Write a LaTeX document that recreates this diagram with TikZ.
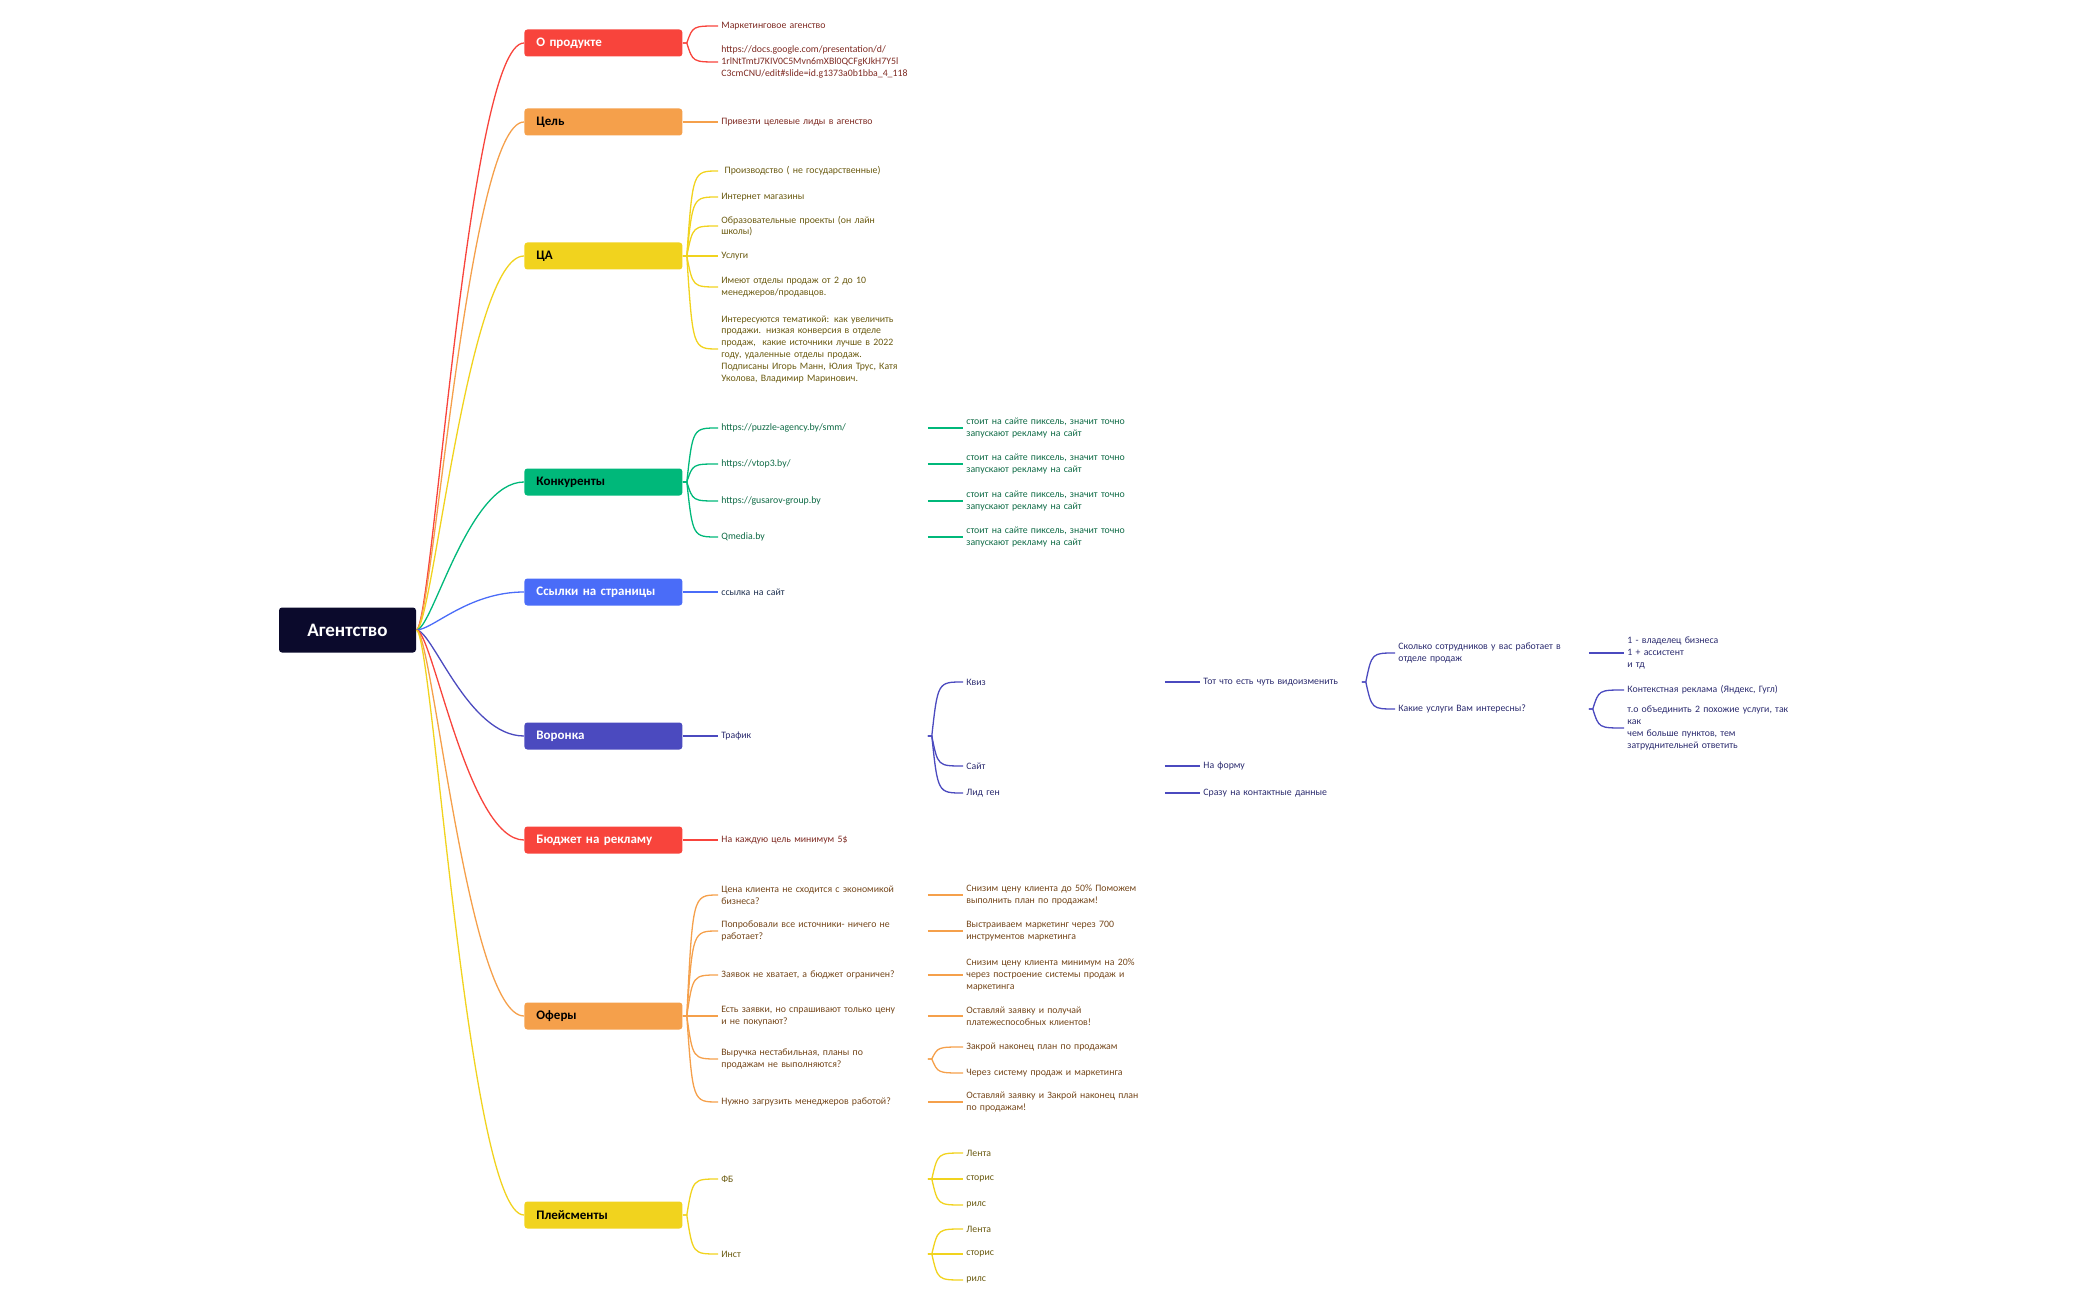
\documentclass[tikz,border=0pt]{standalone}
\usepackage{fontspec}
\setmainfont{Carlito}
\usetikzlibrary{calc}
\definecolor{cR}{HTML}{F8443C}\definecolor{tR}{HTML}{7E2A22}
\definecolor{cO}{HTML}{F5A04B}\definecolor{tO}{HTML}{74461A}
\definecolor{cY}{HTML}{F1D31E}\definecolor{tY}{HTML}{6A5A10}
\definecolor{cG}{HTML}{00B87A}\definecolor{tG}{HTML}{0E6A45}
\definecolor{cB}{HTML}{4A6CF8}\definecolor{tB}{HTML}{1E3050}
\definecolor{cP}{HTML}{4B4ABF}\definecolor{tP}{HTML}{2A2A6E}
\definecolor{cRoot}{HTML}{0B0A2C}
\begin{document}
\begin{tikzpicture}[x=0.5pt,y=-0.5pt,
 t/.style={anchor=west,align=left,inner xsep=1.5pt,inner ysep=0.5pt,font=\fontsize{4.9}{5.9}\selectfont},
 w2/.style={t,text width=99pt}, w3/.style={t,text width=95pt},
 w4/.style={t,text width=75pt}, w5/.style={t,text width=91pt}, w6/.style={t,text width=85pt},
 box/.style={anchor=west,rounded corners=1.5pt,minimum width=79pt,minimum height=13.5pt,text width=67pt,inner xsep=6pt,align=left,font=\fontsize{6.5}{8}\selectfont\bfseries},
 br/.style={to path={-- ++(4,0) coordinate(tmpP) .. controls ([xshift=3pt]tmpP |- \tikztotarget) .. (\tikztotarget)}},
 rc/.style={to path={.. controls ([xshift=8pt]\tikztostart) and ([xshift=-28pt]\tikztotarget) .. (\tikztotarget)}},
 ln/.style={line width=0.65pt}]
\useasboundingbox (0,0) rectangle (2100,1300);
\node[anchor=center,fill=cRoot,text=white,rounded corners=1.5pt,minimum width=68.5pt,minimum height=22.5pt,font=\fontsize{9.5}{11}\selectfont\bfseries] (root) at (347.5,630) {Агентство};
% level 1
\node[box,fill=cR,text=white] (b1) at (524,43) {О продукте};
\node[box,fill=cO,text=black] (b2) at (524,122) {Цель};
\node[box,fill=cY,text=black] (b3) at (524,256) {ЦА};
\node[box,fill=cG,text=black] (b4) at (524,482) {Конкуренты};
\node[box,fill=cB,text=white] (b5) at (524,592) {Ссылки на страницы};
\node[box,fill=cP,text=white] (b6) at (524,736) {Воронка};
\node[box,fill=cR,text=white] (b7) at (524,840) {Бюджет на рекламу};
\node[box,fill=cO,text=black] (b8) at (524,1016) {Оферы};
\node[box,fill=cY,text=black] (b9) at (524,1215) {Плейсменты};
\draw[ln,cR] (root.east) to[rc] (b1.west);
\draw[ln,cO] (root.east) to[rc] (b2.west);
\draw[ln,cY] (root.east) to[rc] (b3.west);
\draw[ln,cG] (root.east) to[rc] (b4.west);
\draw[ln,cB] (root.east) to[rc] (b5.west);
\draw[ln,cP] (root.east) to[rc] (b6.west);
\draw[ln,cR] (root.east) to[rc] (b7.west);
\draw[ln,cO] (root.east) to[rc] (b8.west);
\draw[ln,cY] (root.east) to[rc] (b9.west);
% О продукте
\begin{scope}[text=tR]
\node[w2] (p1) at (718,26) {Маркетинговое агенство};
\node[w2] (p2) at (718,62) {https://docs.google.com/presentation/d/\\1rlNtTmtJ7KIV0C5Mvn6mXBl0QCFgKJkH7Y5l\\C3cmCNU/edit\#slide=id.g1373a0b1bba\_4\_118};
\node[w2] (g1) at (718,122) {Привезти целевые лиды в агенство};
\end{scope}
\draw[ln,cR] (b1.east) to[br] (p1.west);
\draw[ln,cR] (b1.east) to[br] (p2.west);
\draw[ln,cO] (b2.east) to[br] (g1.west);
% ЦА
\begin{scope}[text=tY]
\node[w2] (a1) at (718,171) {\ Производство ( не государственные)};
\node[w2] (a2) at (718,197) {Интернет магазины};
\node[w2] (a3) at (718,226) {Образовательные проекты (он лайн\\школы)};
\node[w2] (a4) at (718,256) {Услуги};
\node[w2] (a5) at (718,287) {Имеют отделы продаж от 2 до 10\\менеджеров/продавцов.};
\node[w2] (a6) at (718,349) {Интересуются тематикой: как увеличить\\продажи. низкая конверсия в отделе\\продаж,\ \ какие источники лучше в 2022\\году, удаленные отделы продаж.\\Подписаны Игорь Манн, Юлия Трус, Катя\\Уколова, Владимир Маринович.};
\end{scope}
\foreach \i in {1,...,6} \draw[ln,cY] (b3.east) to[br] (a\i.west);
% Конкуренты
\begin{scope}[text=tG]
\node[w2] (k1) at (718,428) {https://puzzle-agency.by/smm/};
\node[w2] (k2) at (718,464) {https://vtop3.by/};
\node[w2] (k3) at (718,501) {https://gusarov-group.by};
\node[w2] (k4) at (718,537) {Qmedia.by};
\foreach \i/\y in {1/428,2/464,3/501,4/537}
  \node[w3] (kk\i) at (963,\y) {стоит на сайте пиксель, значит точно\\запускают рекламу на сайт};
\end{scope}
\foreach \i in {1,...,4} {\draw[ln,cG] (b4.east) to[br] (k\i.west);
  \draw[ln,cG] ([xshift=2.5pt]k\i.east) to[br] (kk\i.west);}
% Ссылки
\node[w2,text=tB] (s1) at (718,592) {ссылка на сайт};
\draw[ln,cB] (b5.east) to[br] (s1.west);
% Воронка
\begin{scope}[text=tP]
\node[w2] (v1) at (718,736) {Трафик};
\node[w3] (v11) at (963,682) {Квиз};
\node[w3] (v12) at (963,766) {Сайт};
\node[w3] (v13) at (963,793) {Лид ген};
\node[w4] (v111) at (1200,682) {Тот что есть чуть видоизменить};
\node[w4] (v121) at (1200,766) {На форму};
\node[w4] (v131) at (1200,793) {Сразу на контактные данные};
\node[w5] (q1) at (1395,653) {Сколько сотрудников у вас работает в\\отделе продаж};
\node[w5] (q2) at (1395,709) {Какие услуги Вам интересны?};
\node[w6] (q11) at (1624,653) {1 - владелец бизнеса\\1 + ассистент\\и тд};
\node[w6] (q21) at (1624,690) {Контекстная реклама (Яндекс, Гугл)};
\node[w6] (q22) at (1624,728) {т.о объединить 2 похожие услуги, так как\\чем больше пунктов, тем\\затруднительней ответить};
\end{scope}
\draw[ln,cP] (b6.east) to[br] (v1.west);
\foreach \i in {1,2,3} {\draw[ln,cP] ([xshift=2.5pt]v1.east) to[br] (v1\i.west);
  \draw[ln,cP] ([xshift=2.5pt]v1\i.east) to[br] (v1\i1.west);}
\draw[ln,cP] ([xshift=2.5pt]v111.east) to[br] (q1.west);
\draw[ln,cP] ([xshift=2.5pt]v111.east) to[br] (q2.west);
\draw[ln,cP] ([xshift=2.5pt]q1.east) to[br] (q11.west);
\draw[ln,cP] ([xshift=2.5pt]q2.east) to[br] (q21.west);
\draw[ln,cP] ([xshift=2.5pt]q2.east) to[br] (q22.west);
% Бюджет
\node[w2,text=tR] (r1) at (718,840) {На каждую цель минимум 5\$};
\draw[ln,cR] (b7.east) to[br] (r1.west);
% Оферы
\begin{scope}[text=tO]
\node[w2] (o1) at (718,895) {Цена клиента не сходится с экономикой\\бизнеса?};
\node[w2] (o2) at (718,931) {Попробовали все источники- ничего не\\работает?};
\node[w2] (o3) at (718,975) {Заявок не хватает, а бюджет ограничен?};
\node[w2] (o4) at (718,1016) {Есть заявки, но спрашивают только цену\\и не покупают?};
\node[w2] (o5) at (718,1059) {Выручка нестабильная, планы по\\продажам не выполняются?};
\node[w2] (o6) at (718,1102) {Нужно загрузить менеджеров работой?};
\node[w3] (o11) at (963,895) {Снизим цену клиента до 50\% Поможем\\выполнить план по продажам!};
\node[w3] (o21) at (963,931) {Выстраиваем маркетинг через 700\\инструментов маркетинга};
\node[w3] (o31) at (963,975) {Снизим цену клиента минимум на 20\%\\через построение системы продаж и\\маркетинга};
\node[w3] (o41) at (963,1016) {Оставляй заявку и получай\\платежеспособных клиентов!};
\node[w3] (o51) at (963,1047) {Закрой наконец план по продажам};
\node[w3] (o52) at (963,1073) {Через систему продаж и маркетинга};
\node[w3] (o61) at (963,1102) {Оставляй заявку и Закрой наконец план\\по продажам!};
\end{scope}
\foreach \i in {1,...,6} \draw[ln,cO] (b8.east) to[br] (o\i.west);
\foreach \i in {1,2,3,4,6} \draw[ln,cO] ([xshift=2.5pt]o\i.east) to[br] (o\i1.west);
\draw[ln,cO] ([xshift=2.5pt]o5.east) to[br] (o51.west);
\draw[ln,cO] ([xshift=2.5pt]o5.east) to[br] (o52.west);
% Плейсменты
\begin{scope}[text=tY]
\node[w2] (f1) at (718,1179) {ФБ};
\node[w2] (f2) at (718,1254) {Инст};
\node[w3] (f11) at (963,1153) {Лента};
\node[w3] (f12) at (963,1179) {сторис};
\node[w3] (f13) at (963,1205) {рилс};
\node[w3] (f21) at (963,1229) {Лента};
\node[w3] (f22) at (963,1254) {сторис};
\node[w3] (f23) at (963,1280) {рилс};
\end{scope}
\foreach \i in {1,2} {\draw[ln,cY] (b9.east) to[br] (f\i.west);
  \foreach \j in {1,2,3} \draw[ln,cY] ([xshift=2.5pt]f\i.east) to[br] (f\i\j.west);}
\end{tikzpicture}
\end{document}
